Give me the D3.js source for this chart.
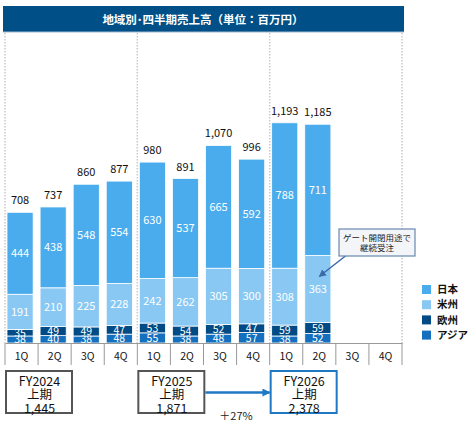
<!DOCTYPE html>
<html><head><meta charset="utf-8">
<script src="https://cdn.jsdelivr.net/npm/d3@7/dist/d3.min.js"></script>
<style>
html,body{margin:0;padding:0;background:#fff;}
svg{display:block;font-family:"Noto Sans CJK JP","Noto Sans",sans-serif;}
</style></head>
<body><svg id="c" width="470" height="422"></svg>
<script>
const title = "地域別･四半期売上高（単位：百万円）";
const quarters = ["1Q","2Q","3Q","4Q","1Q","2Q","3Q","4Q","1Q","2Q","3Q","4Q"];
const seriesNames = ["アジア","欧州","米州","日本"];
const asia     = [38,40,38,48,55,38,48,57,38,52,null,null];
const europe   = [35,49,49,47,53,54,52,47,59,59,null,null];
const americas = [191,210,225,228,242,262,305,300,308,363,null,null];
const japan    = [444,438,548,554,630,537,665,592,788,711,null,null];
const fiscalYears = ["FY2024","FY2025","FY2026"];
const halfLabel = "上期";
const halfTotals = ["1,445","1,871","2,378"];
const growthLabel = "＋27%";
const noteLines = ["ゲート開閉用途で","継続受注"];

const colors = {"アジア":"#1470bf","欧州":"#004b85","米州":"#88c8f3","日本":"#4aacec"};
const legendOrder = ["日本","米州","欧州","アジア"];

const svg = d3.select("#c");
const left = 5, right = 402, base = 343;
const slot = d3.scaleBand().domain(d3.range(12)).range([left, right]).padding(0);
const y = d3.scaleLinear().domain([0, 1300]).range([base, base - 1300 * 0.1846]);
const bw = slot.bandwidth() * 0.79;
const bx = i => slot(i) + 2;

// title bar
svg.append("rect").attr("x",3).attr("y",6).attr("width",401).attr("height",26).attr("fill","#004f86");
svg.append("line").attr("x1",3).attr("x2",404).attr("y1",32).attr("y2",32).attr("stroke","#9fb8cf").attr("stroke-width",1);
svg.append("text").attr("x",203).attr("y",23.5).attr("text-anchor","middle").attr("fill","#fff")
  .attr("font-size",11.5).attr("font-weight","bold").text(title);

// dotted group separators
[0,4,8,12].forEach(k => {
  const xx = k < 12 ? slot(k) : right;
  svg.append("line").attr("x1",xx).attr("x2",xx).attr("y1",33).attr("y2",base)
    .attr("stroke","#c9c9c9").attr("stroke-width",1.5).attr("stroke-dasharray","1.5,1.5");
});

// stacked data
const rows = quarters.map((q,i)=>({i, "アジア":asia[i], "欧州":europe[i], "米州":americas[i], "日本":japan[i]}));
const stack = d3.stack().keys(seriesNames).value((d,k)=>d[k]||0)(rows);
const defs = svg.append("defs");
const gBars = svg.append("g");
const gLab = svg.append("g");
stack.forEach(layer => {
  const key = layer.key;
  layer.forEach((d,i) => {
    if (!rows[i][key]) return;
    const y0 = y(d[0]), y1 = y(d[1]);
    gBars.append("rect").attr("x",bx(i)).attr("y",y1).attr("width",bw).attr("height",y0-y1)
      .attr("fill",colors[key]).attr("stroke","#fff").attr("stroke-width",0.8);
    const cid = "c_"+i+"_"+seriesNames.indexOf(key);
    defs.append("clipPath").attr("id",cid).append("rect")
      .attr("x",bx(i)).attr("y",y1-0.5).attr("width",bw).attr("height",y0-y1+0.5);
    const small = (y0-y1) < 12;
    gLab.append("text").attr("clip-path","url(#"+cid+")")
      .attr("x",bx(i)+bw/2).attr("y",(y0+y1)/2).attr("dy","0.36em")
      .attr("text-anchor","middle").attr("fill","#fff").attr("font-size",small?10.5:11)
      .text(rows[i][key]);
  });
});
// totals
rows.forEach((r,i)=>{
  if (!r["日本"]) return;
  const t = seriesNames.reduce((s,k)=>s+r[k],0);
  svg.append("text").attr("x",bx(i)+bw/2).attr("y",y(t)-8).attr("text-anchor","middle")
    .attr("fill","#111").attr("font-size",11).text(d3.format(",")(t));
});

// axis
const ax = svg.append("g").attr("transform",`translate(0,${base})`)
  .call(d3.axisBottom(slot).tickSize(0).tickPadding(10).tickFormat(i=>quarters[i]));
ax.select(".domain").attr("stroke","#999");
ax.selectAll("text").attr("font-size",10.5).attr("fill","#111").attr("font-family","Noto Sans CJK JP");
d3.range(13).forEach(k=>{
  const xx = k<12 ? slot(k) : right;
  svg.append("line").attr("x1",xx).attr("x2",xx).attr("y1",base).attr("y2",365).attr("stroke","#999").attr("stroke-width",1);
});

// legend
legendOrder.forEach((k,j)=>{
  const ly = 285 + j*15.2;
  svg.append("rect").attr("x",422).attr("y",ly).attr("width",9).attr("height",9).attr("fill",colors[k]);
  svg.append("text").attr("x",437).attr("y",ly+4.5).attr("dy","0.36em").attr("font-size",10.5)
    .attr("font-weight","bold").attr("fill","#111").text(k);
});

// annotation
const nb = {x:339,y:229,w:76,h:27};
svg.append("defs").append("marker").attr("id","ah").attr("viewBox","0 0 10 10").attr("refX",8).attr("refY",5)
  .attr("markerWidth",5).attr("markerHeight",5).attr("orient","auto")
  .append("path").attr("d","M0,0L10,5L0,10z").attr("fill","#3d6aa8");
svg.append("line").attr("x1",348).attr("y1",254).attr("x2",bx(9)+bw/2+2).attr("y2",276)
  .attr("stroke","#3d6aa8").attr("stroke-width",1.5).attr("marker-end","url(#ah)");
svg.append("rect").attr("x",nb.x).attr("y",nb.y).attr("width",nb.w).attr("height",nb.h)
  .attr("fill","#f3f5f8").attr("stroke","#6a87b0").attr("stroke-width",1.2);
noteLines.forEach((t,j)=>svg.append("text").attr("x",nb.x+nb.w/2).attr("y",nb.y+8.5+j*10.5).attr("dy","0.36em")
  .attr("text-anchor","middle").attr("font-size",8.5).attr("fill","#222").text(t));

// half-year boxes
const boxXs = [slot(0), slot(4), slot(8)];
fiscalYears.forEach((fy,j)=>{
  const bxx = boxXs[j], w = 67;
  svg.append("rect").attr("x",bxx+1).attr("y",371).attr("width",w-1).attr("height",42)
    .attr("fill","#fff").attr("stroke", j===2 ? "#1f78c4" : "#555").attr("stroke-width",2);
  [fy, halfLabel, halfTotals[j]].forEach((t,k)=>{
    svg.append("text").attr("x",bxx+1+w/2).attr("y",381+k*13.5).attr("dy","0.36em").attr("text-anchor","middle")
      .attr("font-size",12.5).attr("fill","#111").text(t);
  });
});
svg.select("defs").append("marker").attr("id","ah2").attr("viewBox","0 0 10 10").attr("refX",9).attr("refY",5)
  .attr("markerWidth",3.2).attr("markerHeight",3.2).attr("orient","auto")
  .append("path").attr("d","M0,0L10,5L0,10z").attr("fill","#1f78c4");
svg.append("line").attr("x1",boxXs[1]+68).attr("y1",392.5).attr("x2",boxXs[2]).attr("y2",392.5)
  .attr("stroke","#1f78c4").attr("stroke-width",2.5).attr("marker-end","url(#ah2)");
svg.append("text").attr("x",236).attr("y",416).attr("dy","0.36em").attr("text-anchor","middle")
  .attr("font-size",11).attr("fill","#222").text(growthLabel);
</script></body></html>
